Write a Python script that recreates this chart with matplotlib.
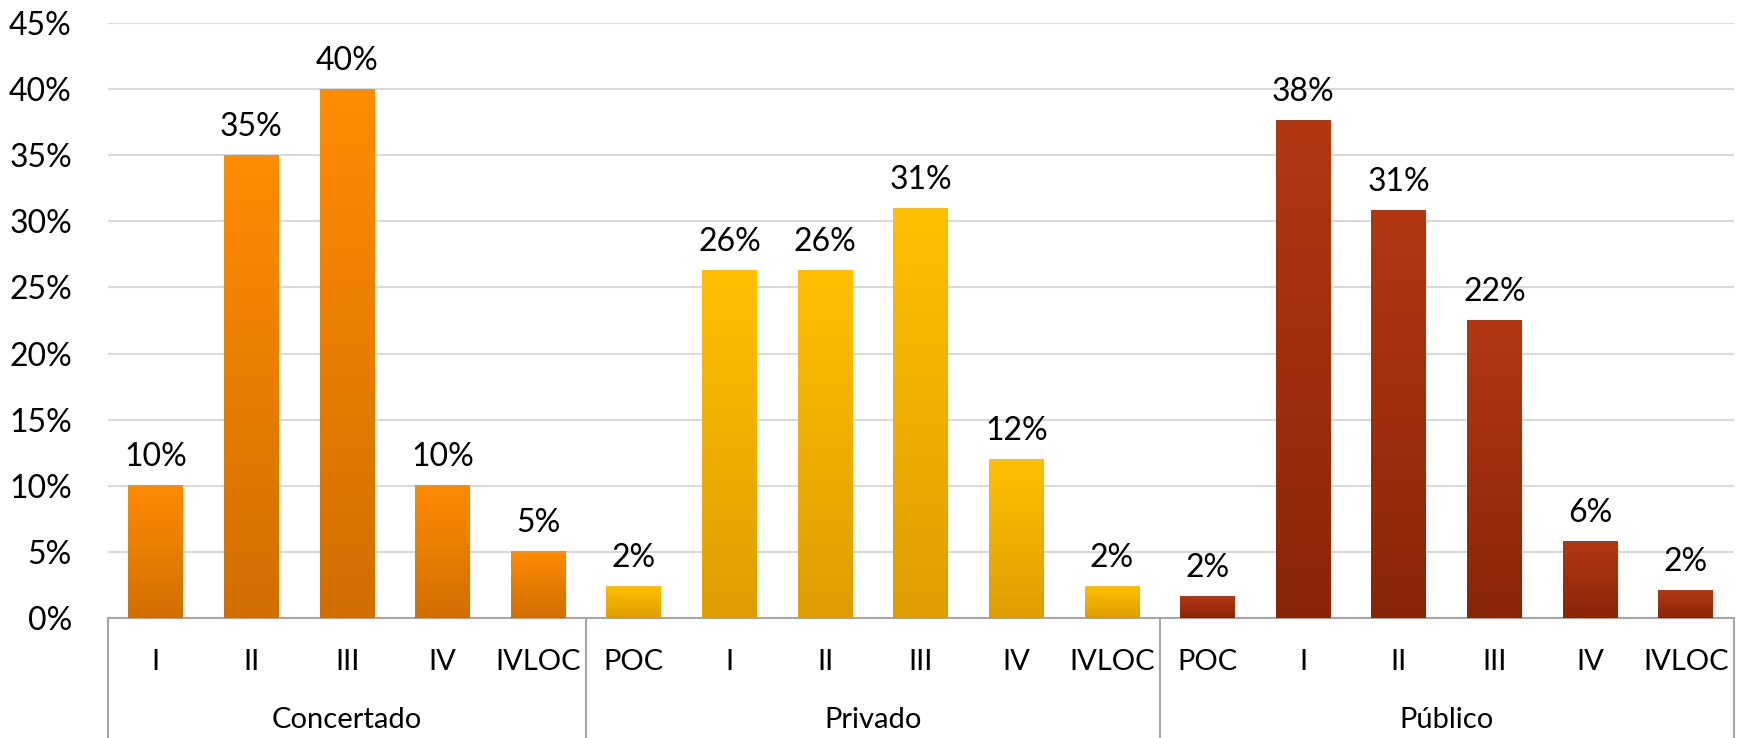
import matplotlib
matplotlib.use('Agg')
import matplotlib.pyplot as plt
import matplotlib.transforms as mtransforms
import numpy as np
from matplotlib.colors import LinearSegmentedColormap

plt.rcParams['font.family'] = ['Lato', 'DejaVu Sans']

# data
groups = ['Concertado', 'Privado', 'Público']
levels = [
    ['I', 'II', 'III', 'IV', 'IVLOC'],
    ['POC', 'I', 'II', 'III', 'IV', 'IVLOC'],
    ['POC', 'I', 'II', 'III', 'IV', 'IVLOC'],
]
values = [
    [10.0, 35.0, 40.0, 10.0, 5.0],
    [2.4, 26.3, 26.3, 31.0, 12.0, 2.4],
    [1.6, 37.6, 30.8, 22.5, 5.8, 2.1],
]
# top / bottom colour of each group's gradient
group_colors = [('#FF8C00', '#D06E00'), ('#FFC000', '#DE9E00'), ('#B33812', '#8A2408')]

fig = plt.figure(figsize=(17.37, 7.38), dpi=100)
ax = fig.add_axes([0.0622, 0.1626, 0.9358, 0.8062])

n_total = sum(len(l) for l in levels)

width = 0.575
pos = 0
xticks, xlabels = [], []
for g, (labs, vals) in enumerate(zip(levels, values)):
    top, bottom = group_colors[g]
    cmap = LinearSegmentedColormap.from_list('g%d' % g, [bottom, top])
    grad = np.linspace(0, 1, 256).reshape(-1, 1)
    for lab, v in zip(labs, vals):
        ax.imshow(grad, extent=[pos - width / 2, pos + width / 2, 0, v],
                  origin='lower', cmap=cmap, aspect='auto', zorder=3)
        ax.annotate(f'{v:.0f}%', (pos, v), xytext=(0, 14), textcoords='offset points',
                    ha='center', va='baseline', fontsize=23, color='black')
        xticks.append(pos)
        xlabels.append(lab)
        pos += 1

ax.set_xlim(-0.5, n_total - 0.5)
ax.set_ylim(0, 45)
ax.set_yticks(np.arange(0, 46, 5))
ax.set_yticklabels([f'{t}%' for t in range(0, 46, 5)], fontsize=23)
ax.set_xticks(xticks)
ax.set_xticklabels(xlabels, fontsize=21)
ax.tick_params(axis='both', length=0)
ax.tick_params(axis='y', pad=26)
ax.tick_params(axis='x', pad=22)
ax.grid(axis='y', color='#D9D9D9', linewidth=1.5, zorder=0)
ax.set_axisbelow(True)
for s in ['top', 'right', 'left']:
    ax.spines[s].set_visible(False)
ax.spines['bottom'].set_color('#A6A6A6')
ax.spines['bottom'].set_linewidth(1.5)

# group box lines below the axis
trans = mtransforms.blended_transform_factory(ax.transData, fig.transFigure)
edges = [-0.5]
start = -0.5
for labs in levels:
    start += len(labs)
    edges.append(start)
for e in edges:
    ax.plot([e, e], [0.0, 0.1626], transform=trans, color='#A6A6A6',
            linewidth=1.5, clip_on=False)
start = -0.5
for g, labs in zip(groups, levels):
    mid = start + len(labs) / 2
    ax.text(mid, 0.024, g, transform=trans, ha='center', va='center', fontsize=21)
    start += len(labs)

plt.savefig('out.png', dpi=100)
plt.close()
